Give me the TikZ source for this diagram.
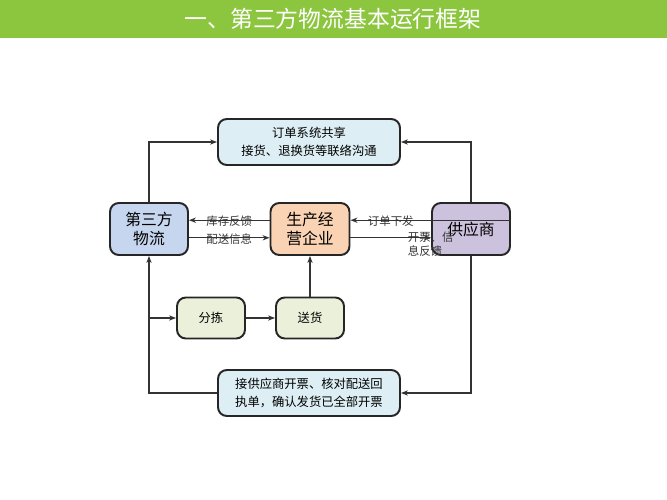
\documentclass[tikz,border=0pt]{standalone}
\usepackage{fontspec}
\setmainfont{Noto Sans CJK SC}
\usetikzlibrary{arrows.meta}
\definecolor{titlegreen}{HTML}{8CC63F}
\definecolor{infoblue}{HTML}{DDEEF4}
\definecolor{logblue}{HTML}{C6D6EE}
\definecolor{firmpeach}{HTML}{F9D3B4}
\definecolor{suppurple}{HTML}{CCC2DD}
\definecolor{stepgreen}{HTML}{EBF0DA}
\tikzset{
    box/.style={rectangle,rounded corners=5pt,draw=black!85,line width=1.1pt,align=center,inner sep=0pt},
    link/.style={draw=black!80,line width=0.6pt,-{Stealth[length=4pt,width=3pt]}},
    lbl/.style={font=\fontsize{6.5}{8}\selectfont,text=black!80,align=left}
}
\begin{document}
\begin{tikzpicture}[x=0.02cm,y=-0.02cm]
    \useasboundingbox (0,0) rectangle (667,500);
    \fill[titlegreen] (0,0) rectangle (667,38);
    \node[text=white,font=\fontsize{13}{15}\selectfont] (title) at (333,19) {一、第三方物流基本运行框架};
    \node[box,fill=infoblue,minimum width=3.64cm,minimum height=0.92cm,font=\fontsize{7}{10}\selectfont] (share) at (309,142) {订单系统共享\\接货、退换货等联络沟通};
    \node[box,fill=logblue,minimum width=1.56cm,minimum height=1.04cm,font=\fontsize{9}{11}\selectfont] (tpl) at (149,229) {第三方\\物流};
    \node[box,fill=firmpeach,minimum width=1.58cm,minimum height=1.04cm,font=\fontsize{9}{11}\selectfont] (firm) at (310,229) {生产经\\营企业};
    \node[box,fill=suppurple,minimum width=1.56cm,minimum height=1.04cm,font=\fontsize{9}{11}\selectfont] (supp) at (471,229) {供应商};
    \node[box,fill=stepgreen,minimum width=1.36cm,minimum height=0.82cm,font=\fontsize{7}{9}\selectfont] (sort) at (211,318) {分拣};
    \node[box,fill=stepgreen,minimum width=1.36cm,minimum height=0.82cm,font=\fontsize{7}{9}\selectfont] (deliver) at (310,318) {送货};
    \node[box,fill=infoblue,minimum width=3.64cm,minimum height=0.92cm,font=\fontsize{7}{10}\selectfont] (invoice) at (309,393) {接供应商开票、核对配送回\\执单，确认发货已全部开票};
    \coordinate (branch) at (149,318);
    % arrows
    \draw[link] (tpl.north) |- (share.west);
    \draw[link] (supp.north) |- (share.east);
    \draw[link] ([yshift=-5]tpl.east) -- node[lbl,above=3pt] {库存反馈} ([yshift=-5]firm.west);
    \draw[link] ([yshift=5]firm.west) -- node[lbl,below=4pt] {配送信息} ([yshift=5]tpl.east);
    \draw[link] ([yshift=-5]firm.east) -- node[lbl,above=3pt] {订单下发} ([yshift=-5]supp.west);
    \draw[link] ([yshift=5]supp.east) -- node[lbl,below=3pt] {开票、信\\息反馈} ([yshift=5]firm.east);
    \draw[link] (supp.south) |- (invoice.east);
    \draw[link] (invoice.west) -| (tpl.south);
    \draw[link] (branch) -- (sort);
    \draw[link] (sort) -- (deliver);
    \draw[link] (deliver) -- (firm);
\end{tikzpicture}
\end{document}
